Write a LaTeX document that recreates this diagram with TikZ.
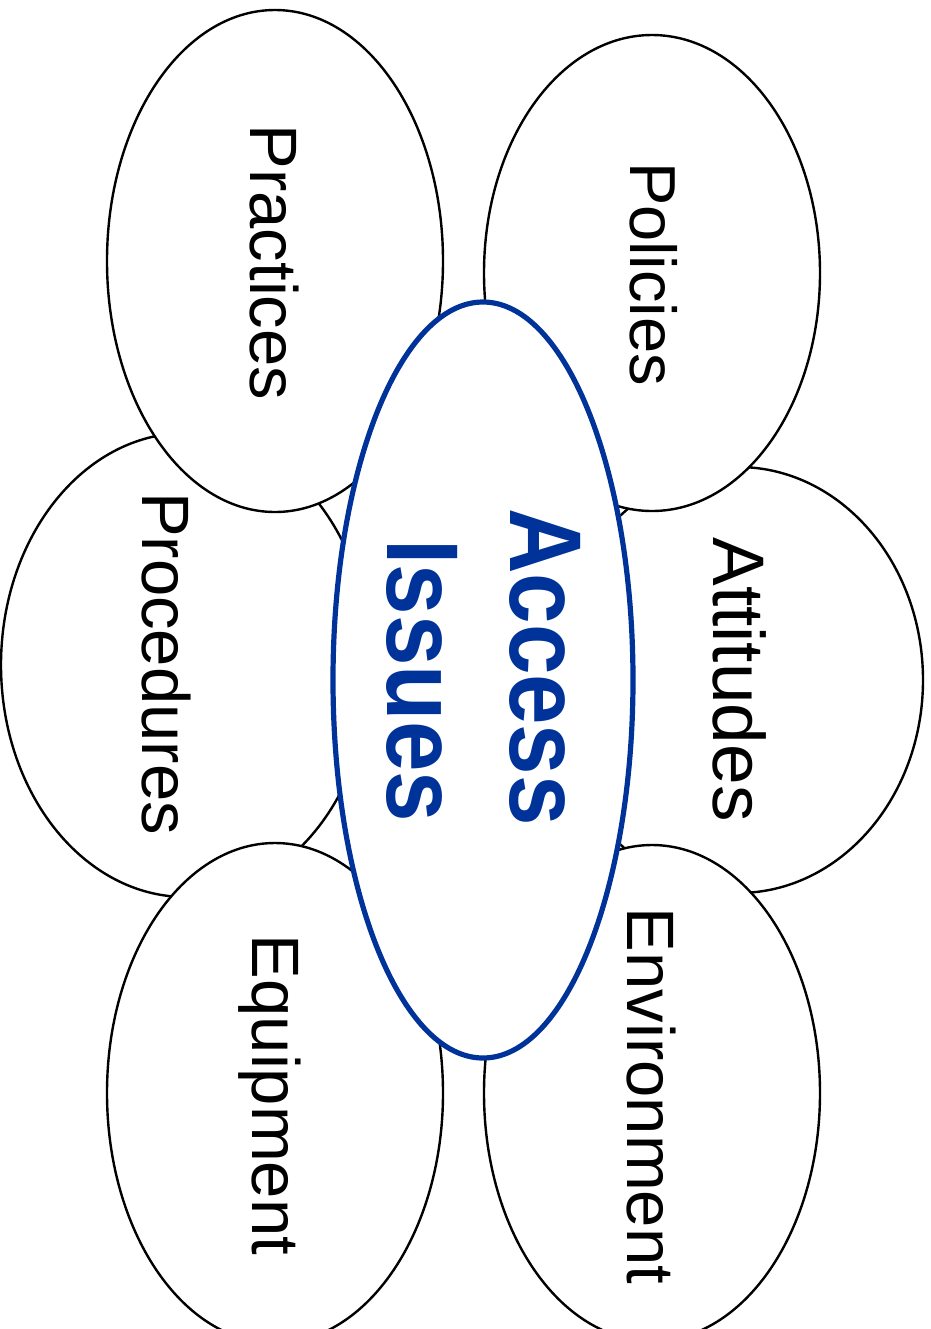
\documentclass[tikz,border=0pt]{standalone}
\usepackage{fontspec}
\setmainfont{Liberation Sans}
\definecolor{accessblue}{HTML}{003399}
\begin{document}
\begin{tikzpicture}[x=0.5pt,y=-0.5pt, line join=round, line cap=round,
	petal/.style={draw=black, fill=white, line width=1.2pt},
	hub/.style={draw=accessblue, fill=white, line width=2.6pt},
	lbl/.style={rotate=-90, anchor=base, inner sep=0pt},
	hublbl/.style={rotate=-90, anchor=base, inner sep=0pt, text=accessblue, font=\fontsize{51}{60}\selectfont\bfseries}]
	\useasboundingbox (0,0) rectangle (931,1329);
	\clip (0,0) rectangle (931,1329);
	% petals, the two side ones first
	\foreach \cx/\cy/\rx/\ry in {186/665/185/232, 738/680/185/213, 275/261/168/251, 652/273/168/238, 275/1093/168/250, 652/1093/168/248}
	{\filldraw[petal] (\cx,\cy) ellipse [x radius=\rx, y radius=\ry];}
	% centre
	\filldraw[hub] (483,680) ellipse [x radius=150, y radius=378];
	% labels
	\foreach \nm/\bx/\by/\fs/\txt in {practices/250/262.5/33.5/Practices, policies/630/274/32.5/Policies, procedures/142/663.5/33.5/Procedures, attitudes/713/679.5/36.5/Attitudes, equipment/252/1095/33.5/Equipment, environment/627/1096/33.5/Environment}
	{\node[lbl, font=\fontsize{\fs}{40}\selectfont] (\nm) at (\bx,\by) {\txt};}
	\node[hublbl] (access) at (510,667) {\scalebox{0.89}[1]{Access}};
	\node[hublbl] (issues) at (387,681) {\scalebox{0.89}[1]{Issues}};
\end{tikzpicture}
\end{document}
